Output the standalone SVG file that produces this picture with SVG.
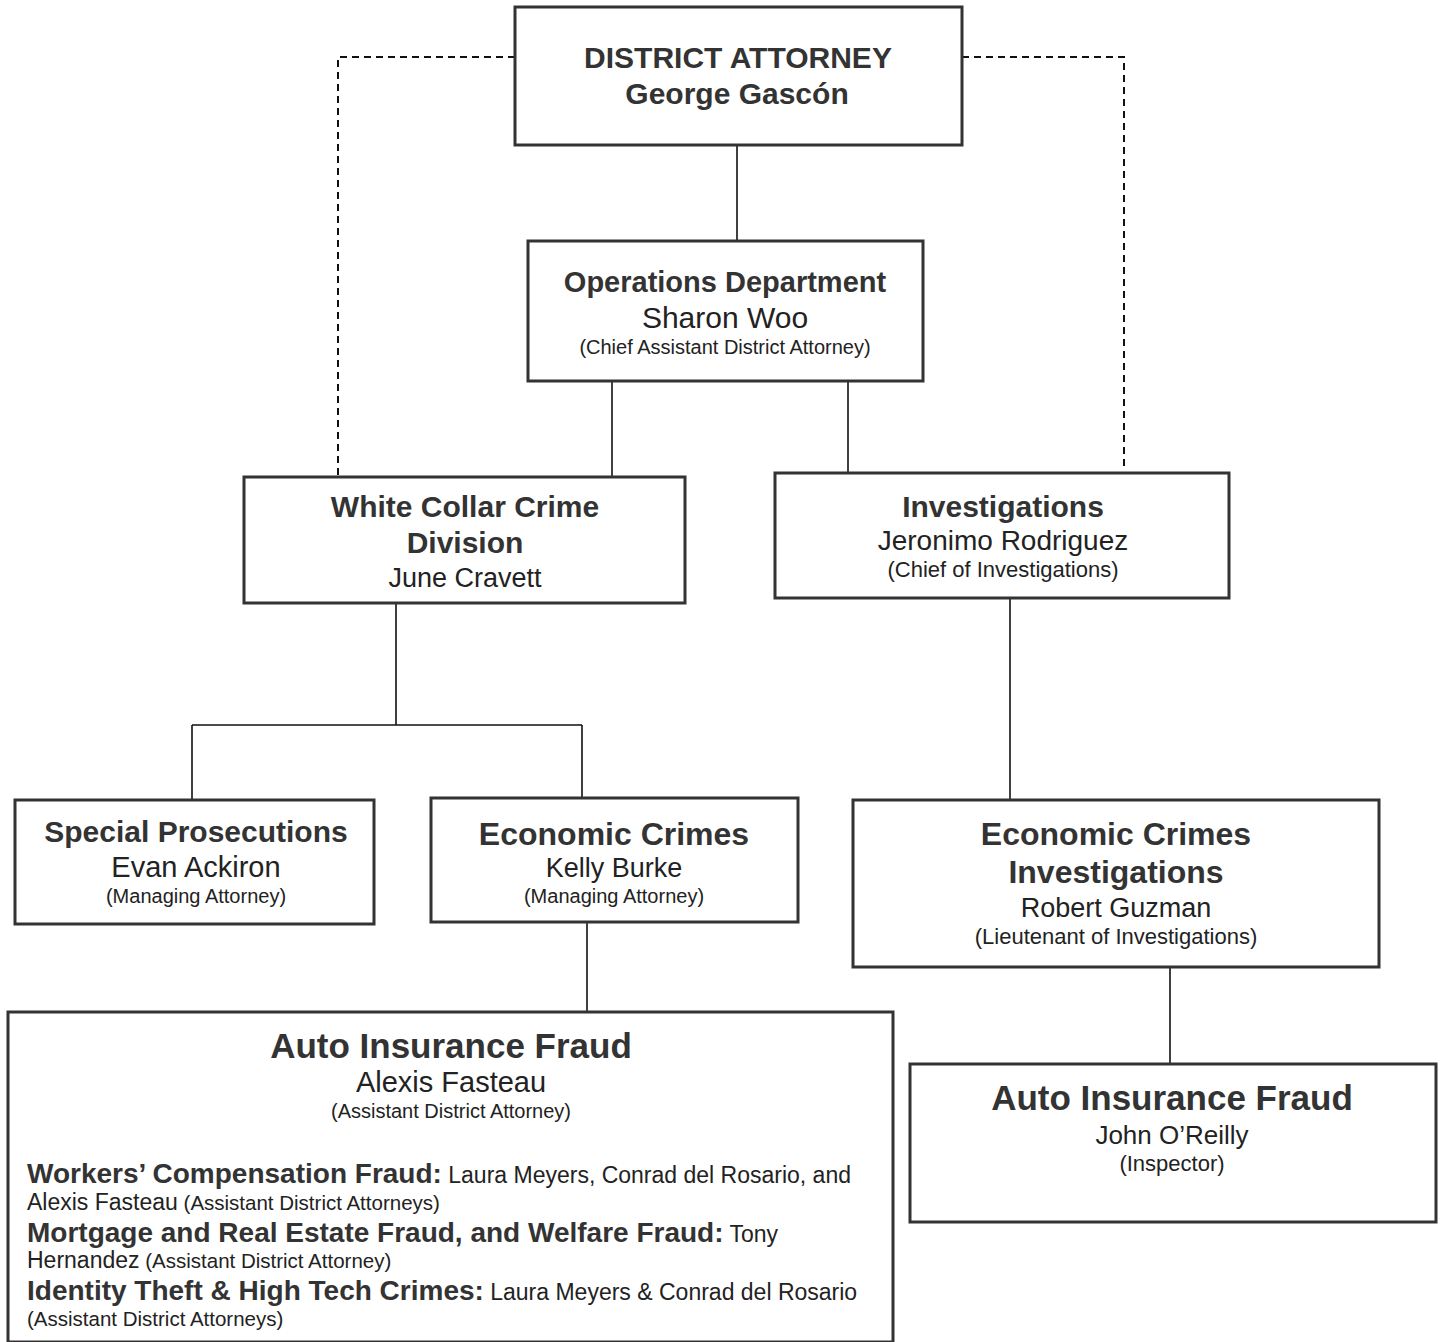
<svg xmlns="http://www.w3.org/2000/svg" width="1443" height="1342" viewBox="0 0 1443 1342">
<style>
.box{fill:#fff;stroke:#333;stroke-width:3}
.ln{fill:none;stroke:#111;stroke-width:1.6}
.dash{fill:none;stroke:#111;stroke-width:2;stroke-dasharray:7 5}
text{font-family:"Liberation Sans",Arial,sans-serif;fill:#222;text-anchor:middle}
.b{font-weight:bold;fill:#333}
.l{text-anchor:start}
</style>
<rect width="1443" height="1342" fill="#fff"/>
<g id="connectors">
<path class="dash" d="M515 57 H338 V475"/>
<path class="dash" d="M962 57 H1124 V471"/>
<path class="ln" d="M737 145 V241"/>
<path class="ln" d="M612 381 V477"/>
<path class="ln" d="M848 381 V473"/>
<path class="ln" d="M396 603 V725 M192 725 H582 M192 725 V800 M582 725 V798"/>
<path class="ln" d="M1010 598 V800"/>
<path class="ln" d="M587 922 V1012"/>
<path class="ln" d="M1170 967 V1064"/>
</g>
<g id="district-attorney">
<rect class="box" x="515" y="7" width="447" height="138"/>
<text class="b" x="738" y="68" font-size="30">DISTRICT ATTORNEY</text>
<text class="b" x="737" y="104" font-size="30">George Gascón</text>
</g>
<g id="operations">
<rect class="box" x="528" y="241" width="395" height="140"/>
<text class="b" x="725" y="292" font-size="29">Operations Department</text>
<text x="725" y="328" font-size="30">Sharon Woo</text>
<text x="725" y="354" font-size="20">(Chief Assistant District Attorney)</text>
</g>
<g id="white-collar">
<rect class="box" x="244" y="477" width="441" height="126"/>
<text class="b" x="465" y="517" font-size="30">White Collar Crime</text>
<text class="b" x="465" y="553" font-size="30">Division</text>
<text x="465" y="587" font-size="27">June Cravett</text>
</g>
<g id="investigations">
<rect class="box" x="775" y="473" width="454" height="125"/>
<text class="b" x="1003" y="517" font-size="30">Investigations</text>
<text x="1003" y="550" font-size="28">Jeronimo Rodriguez</text>
<text x="1003" y="577" font-size="22">(Chief of Investigations)</text>
</g>
<g id="special-prosecutions">
<rect class="box" x="15" y="800" width="359" height="124"/>
<text class="b" x="196" y="842" font-size="30">Special Prosecutions</text>
<text x="196" y="877" font-size="29">Evan Ackiron</text>
<text x="196" y="903" font-size="20">(Managing Attorney)</text>
</g>
<g id="economic-crimes">
<rect class="box" x="431" y="798" width="367" height="124"/>
<text class="b" x="614" y="845" font-size="32">Economic Crimes</text>
<text x="614" y="877" font-size="27">Kelly Burke</text>
<text x="614" y="903" font-size="20">(Managing Attorney)</text>
</g>
<g id="eci">
<rect class="box" x="853" y="800" width="526" height="167"/>
<text class="b" x="1116" y="845" font-size="32">Economic Crimes</text>
<text class="b" x="1116" y="883" font-size="32">Investigations</text>
<text x="1116" y="917" font-size="27">Robert Guzman</text>
<text x="1116" y="944" font-size="22">(Lieutenant of Investigations)</text>
</g>
<g id="auto-right">
<rect class="box" x="910" y="1064" width="526" height="158"/>
<text class="b" x="1172" y="1110" font-size="35">Auto Insurance Fraud</text>
<text x="1172" y="1144" font-size="26">John O’Reilly</text>
<text x="1172" y="1171" font-size="22">(Inspector)</text>
</g>
<g id="auto-left">
<rect class="box" x="8" y="1012" width="885" height="330"/>
<text class="b" x="451" y="1058" font-size="35">Auto Insurance Fraud</text>
<text x="451" y="1092" font-size="29">Alexis Fasteau</text>
<text x="451" y="1118" font-size="20">(Assistant District Attorney)</text>
<text class="l" x="27" y="1183"><tspan class="b" font-size="28">Workers’ Compensation Fraud:</tspan><tspan font-size="23"> Laura Meyers, Conrad del Rosario, and</tspan></text>
<text class="l" x="27" y="1210"><tspan font-size="23">Alexis Fasteau</tspan><tspan font-size="20.5"> (Assistant District Attorneys)</tspan></text>
<text class="l" x="27" y="1242"><tspan class="b" font-size="28">Mortgage and Real Estate Fraud, and Welfare Fraud:</tspan><tspan font-size="23"> Tony</tspan></text>
<text class="l" x="27" y="1268"><tspan font-size="23">Hernandez</tspan><tspan font-size="20.5"> (Assistant District Attorney)</tspan></text>
<text class="l" x="27" y="1300"><tspan class="b" font-size="28">Identity Theft &amp; High Tech Crimes:</tspan><tspan font-size="23"> Laura Meyers &amp; Conrad del Rosario</tspan></text>
<text class="l" x="27" y="1326" font-size="20.5">(Assistant District Attorneys)</text>
</g>
</svg>
